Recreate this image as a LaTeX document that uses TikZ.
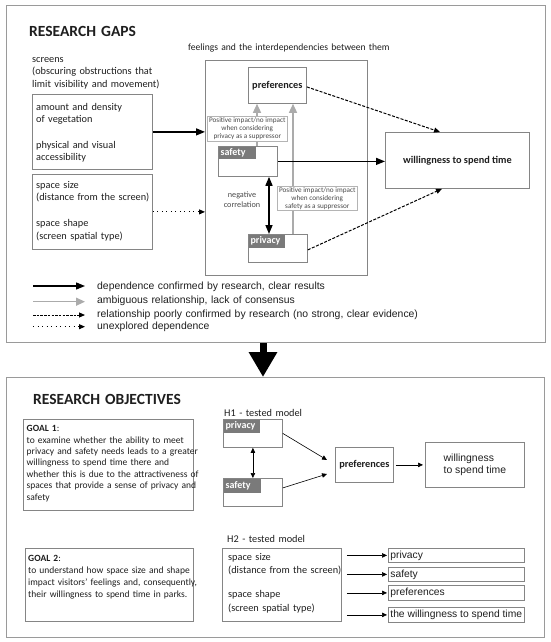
\documentclass[tikz,border=0pt]{standalone}
\usepackage{fontspec}
\setmainfont{Carlito}
\newfontfamily\arialf{Liberation Sans}
\usetikzlibrary{arrows.meta,calc}
\definecolor{boxgray}{HTML}{858585}
\definecolor{framegray}{HTML}{9A9A9A}
\definecolor{labgray}{HTML}{7A7A7A}
\definecolor{arrgray}{HTML}{ABABAB}
\definecolor{ink}{HTML}{1E1E1E}
\definecolor{smallink}{HTML}{4A4A4A}
\definecolor{lightborder}{HTML}{B4B4B4}
\begin{document}
\begin{tikzpicture}[x=1pt,y=-1pt,
  box/.style={draw=boxgray, line width=0.8pt, inner sep=0pt, anchor=north west, text=ink},
  frame/.style={draw=framegray, line width=1.2pt, inner sep=0pt, anchor=north west},
  txt/.style={inner sep=0pt, anchor=base west, text=ink, align=left, text width=440pt},
  cfont/.style={font=\fontsize{10.3}{12.4}\selectfont},
  afont/.style={font=\arialf\fontsize{10.4}{11.7}\selectfont},
  bfont/.style={font=\bfseries\fontsize{10.3}{12.4}\selectfont},
  tfont/.style={font=\bfseries\fontsize{15.5}{18}\selectfont},
  tag/.style={fill=labgray, text=white, font=\bfseries\fontsize{10}{11}\selectfont, inner xsep=2pt, inner ysep=0pt, anchor=north west, align=left},
  lab/.style={draw=lightborder, fill=white, line width=0.6pt, inner sep=0.5pt, anchor=north west, align=center, text=smallink, font=\fontsize{7.2}{8}\selectfont},
  solidarr/.style={line width=1.3pt, -{Triangle[width=7pt,length=9pt]}},
  dblarr/.style={line width=1.5pt, {Triangle[width=7pt,length=9pt]}-{Triangle[width=7pt,length=9pt]}},
  grayarr/.style={draw=arrgray, line width=1.4pt, -{Triangle[width=8pt,length=9pt]}},
  dasharr/.style={line width=1pt, dash pattern=on 3pt off 1.5pt, -{Triangle[width=5pt,length=6pt]}},
  dotarr/.style={line width=1pt, dash pattern=on 1pt off 3.5pt, -{Triangle[width=5pt,length=6pt]}},
  thinarr/.style={line width=0.6pt, -{Triangle[width=4.5pt,length=5pt]}},
  thindbl/.style={line width=0.6pt, {Triangle[width=4.5pt,length=5pt]}-{Triangle[width=4.5pt,length=5pt]}}
]
\useasboundingbox (0,0) rectangle (550,642);

% ---------- frames and big arrow ----------
\node[frame, minimum width=539pt, minimum height=337pt] (topframe) at (6,5) {};
\node[frame, minimum width=538pt, minimum height=260pt] (botframe) at (6,377) {};
\coordinate (bigx) at (263,0);
\draw[line width=7pt, -{Triangle[width=27pt,length=25pt]}] (topframe.south -| bigx) -- (botframe.north -| bigx);

% ---------- RESEARCH GAPS ----------
\node[txt, tfont] (gaps) at (29,37) {RESEARCH GAPS};
\node[txt, font=\fontsize{9.6}{12}\selectfont] (feeltitle) at (188,51) {feelings and the interdependencies between them};
\node[txt, cfont] (screens) at (32,62.4) {screens\\(obscuring obstructions that\\limit visibility and movement)};

\node[box, minimum width=120pt, minimum height=75pt] (veg) at (32,94) {};
\node[txt, font=\fontsize{10.3}{12}\selectfont] (vegA) at (36,110.5) {amount and density\\of vegetation};
\node[txt, font=\fontsize{10.3}{12}\selectfont] (vegB) at (36,148.5) {physical and visual\\accessibility};

\node[box, minimum width=120pt, minimum height=75pt] (space) at (32,174) {};
\node[txt, font=\fontsize{10.3}{12.3}\selectfont] (spaceA) at (36,188.5) {space size\\(distance from the screen)};
\node[txt, font=\fontsize{10.3}{12.6}\selectfont] (spaceB) at (36,226.5) {space shape\\(screen spatial type)};

\node[box, minimum width=162pt, minimum height=215pt] (feel) at (205,60) {};
\node[box, minimum width=58pt, minimum height=36pt, bfont] (pref) at (248,67) {preferences};
\node[box, minimum width=59pt, minimum height=30pt] (safety) at (218,146) {};
\node[tag, text width=33pt, minimum height=12pt] (safetytag) at (218.4,146.4) {safety};
\node[box, minimum width=59pt, minimum height=28pt] (privacy) at (248,234) {};
\node[tag, text width=32pt, minimum height=13pt] (privacytag) at (248.4,234.4) {privacy};
\node[box, minimum width=144pt, minimum height=56pt, bfont] (will) at (385,132) {willingness to spend time};

% gray arrows (behind labels)
\coordinate (g1) at (257,0);
\coordinate (g2) at (293,0);
\draw[grayarr] (safety.north -| g1) -- (pref.south -| g1);
\draw[grayarr] (privacy.north -| g2) -- (pref.south -| g2);
\node[lab, minimum width=80pt, minimum height=25pt] (lab1) at (207,116) {Positive impact/no impact\\when considering\\privacy as a suppressor};
\node[lab, minimum width=80pt, minimum height=24pt] (lab2) at (277,186) {Positive impact/no impact\\when considering\\safety as a suppressor};

% black arrows
\coordinate (d1) at (269,0);
\draw[dblarr] (safety.south -| d1) -- (privacy.north -| d1);
\node[inner sep=0pt, align=center, text=smallink, font=\fontsize{8.2}{10}\selectfont] (negcor) at (242,200) {negative\\correlation};
\draw[solidarr] (safety.east) -- (safety.east -| will.west);
\draw[solidarr] (veg.east) -- (veg.east -| feel.west);
\draw[dotarr] (space.east) -- (space.east -| feel.west);

% dashed arrows to willingness
\coordinate (wt) at (440,0);
\coordinate (wb) at (442,0);
\draw[dasharr] ([yshift=-1.5pt]pref.east) -- (will.north -| wt);
\draw[dasharr] ([yshift=-1.5pt]privacy.east) -- (will.south -| wb);

% legend
\coordinate (la1) at (33,286);   \coordinate (lb1) at (85,286);
\coordinate (la2) at (33,301.7); \coordinate (lb2) at (85,301.7);
\coordinate (la3) at (33,315);   \coordinate (lb3) at (85,315);
\coordinate (la4) at (33,326.7); \coordinate (lb4) at (85,326.7);
\draw[solidarr] (la1) -- (lb1);
\draw[grayarr] (la2) -- (lb2);
\draw[dasharr, dash pattern=on 2.5pt off 1.2pt] (la3) -- (lb3);
\draw[dotarr] (la4) -- (lb4);
\node[txt, afont] (leg1) at (97,289.4) {dependence confirmed by research, clear results};
\node[txt, afont] (leg2) at (97,303.4) {ambiguous relationship, lack of consensus};
\node[txt, afont] (leg3) at (97,317) {relationship poorly confirmed by research (no strong, clear evidence)};
\node[txt, afont] (leg4) at (97,329.4) {unexplored dependence};

% ---------- RESEARCH OBJECTIVES ----------
\node[txt, tfont] (objectives) at (33,404.5) {RESEARCH OBJECTIVES};

\node[box, minimum width=170pt, minimum height=91pt] (goal1) at (23,419) {};
\node[txt, font=\fontsize{9.5}{11.4}\selectfont] (goal1t) at (26.5,431.7) {\textbf{GOAL 1}:\\to examine whether the ability to meet\\privacy and safety needs leads to a greater\\willingness to spend time there and\\whether this is due to the attractiveness of\\spaces that provide a sense of privacy and\\safety};

\node[box, minimum width=168pt, minimum height=73pt] (goal2) at (25,548) {};
\node[txt, font=\fontsize{9.5}{11.9}\selectfont] (goal2t) at (28,561.5) {\textbf{GOAL 2}:\\to understand how space size and shape\\impact visitors' feelings and, consequently,\\their willingness to spend time in parks.};

% H1
\node[txt, cfont] (h1title) at (224,416) {H1 - tested model};
\node[box, minimum width=59pt, minimum height=28pt] (priv1) at (223,419) {};
\node[tag, text width=32pt, minimum height=13pt] (priv1tag) at (223.4,419.4) {privacy};
\node[box, minimum width=59pt, minimum height=28pt] (safe1) at (223,478) {};
\node[tag, text width=33pt, minimum height=14pt] (safe1tag) at (223.4,478.4) {safety};
\node[box, minimum width=58pt, minimum height=35pt, bfont] (pref1) at (335,447) {preferences};
\node[box, minimum width=99pt, minimum height=45pt, afont, align=left] (will1) at (425,442) {willingness\\to spend time};
\draw[thindbl] (priv1.south) -- (safe1.north);
\coordinate (h1a) at (327,460);
\coordinate (h1b) at (327,474);
\draw[thinarr] (priv1.east) -- (h1a);
\draw[thinarr] ([yshift=4.5pt]safe1.east) -- (h1b);
\draw[thinarr] ([xshift=2pt]pref1.east) -- ([xshift=-2pt]will1.west);

% H2
\node[txt, cfont] (h2title) at (227,542.5) {H2 - tested model};
\node[box, minimum width=119pt, minimum height=73pt] (h2box) at (222,548) {};
\node[txt, font=\fontsize{10.3}{13}\selectfont] (h2a) at (228,560.5) {space size\\(distance from the screen)};
\node[txt, font=\fontsize{10.3}{14}\selectfont] (h2b) at (228,597.5) {space shape\\(screen spatial type)};
\tikzset{rbox/.style={box, minimum width=136pt, font=\arialf\fontsize{10.3}{11.7}\selectfont, inner xsep=2pt}}
\node[rbox, minimum height=14pt] (r1) at (388,548) {\makebox[132pt][l]{privacy}};
\node[rbox, minimum height=14pt] (r2) at (388,567) {\makebox[132pt][l]{safety}};
\node[rbox, minimum height=15pt] (r3) at (388,585) {\makebox[132pt][l]{preferences}};
\node[rbox, minimum height=15pt] (r4) at (388,607) {\makebox[132pt][l]{the willingness to spend time}};
\draw[thinarr] ([xshift=5pt]r1.west -| h2box.east) -- ([xshift=-1pt]r1.west);
\draw[thinarr] ([xshift=5pt]r2.west -| h2box.east) -- ([xshift=-1pt]r2.west);
\draw[thinarr] ([xshift=5pt]r3.west -| h2box.east) -- ([xshift=-1pt]r3.west);
\draw[thinarr] ([xshift=5pt]r4.west -| h2box.east) -- ([xshift=-1pt]r4.west);
\end{tikzpicture}
\end{document}
